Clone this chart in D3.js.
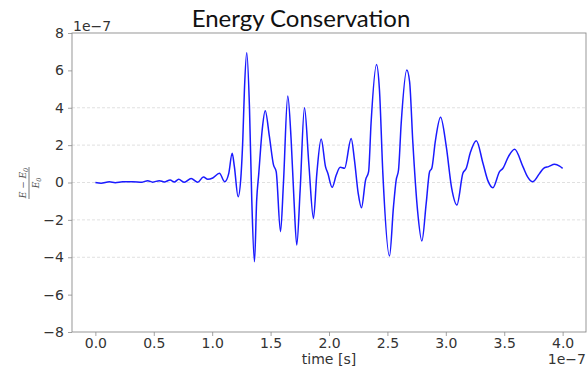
<!DOCTYPE html>
<html>
<head>
<meta charset="utf-8">
<script src="https://cdn.jsdelivr.net/npm/d3@7"></script>
<style>
  html, body { margin: 0; padding: 0; background: #fff; }
  svg { display: block; }
</style>
</head>
<body>
<svg id="chart" width="587" height="370"></svg>
<script>
// Relative energy error (E - E0)/E0 over simulation time, both in units of 1e-7
const timeE7 = [
  0.00, 0.049, 0.12, 0.17, 0.234, 0.32, 0.40, 0.448, 0.49, 0.548, 0.59, 0.64, 0.677, 0.713,
  0.762, 0.82, 0.876, 0.925, 0.962, 1.005, 1.062, 1.107, 1.142, 1.171, 1.19, 1.222, 1.248,
  1.262, 1.276, 1.296, 1.319, 1.339, 1.362, 1.381, 1.399, 1.428, 1.454, 1.49, 1.525, 1.548,
  1.585, 1.61, 1.647, 1.676, 1.699, 1.724, 1.753, 1.79, 1.827, 1.867, 1.896, 1.933, 1.97,
  1.99, 2.027, 2.062, 2.096, 2.133, 2.19, 2.218, 2.25, 2.278, 2.313, 2.339, 2.36, 2.407,
  2.432, 2.461, 2.518, 2.552, 2.575, 2.595, 2.618, 2.666, 2.69, 2.718, 2.758, 2.795, 2.832,
  2.861, 2.88, 2.91, 2.955, 3.004, 3.05, 3.095, 3.146, 3.175, 3.21, 3.261, 3.318, 3.36,
  3.403, 3.46, 3.489, 3.537, 3.589, 3.66, 3.70, 3.745, 3.803, 3.837, 3.88, 3.931, 3.974, 4.00
];
const dE = [
  0.00, -0.04, 0.04, -0.01, 0.04, 0.04, 0.02, 0.10, 0.02, 0.10, 0.03, 0.13, 0.03, 0.17,
  0.01, 0.22, 0.01, 0.30, 0.17, 0.24, 0.49, 0.04, 0.49, 1.56, 0.85, -0.76, 0.49,
  2.27, 4.95, 6.94, 4.06, -0.94, -4.24, -0.94, 0.49, 2.81, 3.84, 2.45, 0.94, 0.58,
  -2.63, -0.04, 4.63, 2.27, -0.76, -3.34, -0.40, 4.00, 1.03, -1.92, 0.49, 2.33, 0.85,
  0.49, -0.26, 0.40, 0.81, 0.76, 2.36, 1.20, -0.58, -1.35, 0.13, 0.58, 3.17, 6.32,
  4.95, 0.49, -3.93, -1.29, 0.13, 0.67, 3.17, 6.02, 5.39, 2.11, -1.50, -3.13, -1.12,
  0.58, 0.76, 2.20, 3.49, 1.92, -0.30, -1.20, 0.49, 0.76, 1.60, 2.24, 1.03, 0.10,
  -0.28, 0.58, 0.76, 1.40, 1.78, 0.85, 0.30, 0.04, 0.49, 0.76, 0.85, 0.97, 0.88, 0.76
];
const xTicks = [0.0, 0.5, 1.0, 1.5, 2.0, 2.5, 3.0, 3.5, 4.0];
const yTicks = [-8, -6, -4, -2, 0, 2, 4, 6, 8];
const gridLevels = [-4, -2, 0, 2, 4];
const offsetLabel = "1e\u22127";

(function draw() {
  const svg = d3.select("#chart");
  const plotLeft = 72, plotRight = 586, plotTop = 33, plotBottom = 332;

  const x = d3.scaleLinear().domain([-0.2, 4.2]).range([plotLeft, plotRight]);
  const y = d3.scaleLinear().domain([-8, 8]).range([plotBottom, plotTop]);

  const spineColor = "#8c8c8c";
  const textColor = "#333";

  // horizontal dashed grid
  svg.append("g")
    .selectAll("line")
    .data(gridLevels)
    .join("line")
    .attr("x1", plotLeft).attr("x2", plotRight)
    .attr("y1", d => y(d)).attr("y2", d => y(d))
    .attr("stroke", "#d8d8d8")
    .attr("stroke-width", 0.8)
    .attr("stroke-dasharray", "3,2");

  // data line
  const line = d3.line()
    .x((d, i) => x(timeE7[i]))
    .y(d => y(d))
    .curve(d3.curveMonotoneX);

  svg.append("path")
    .datum(dE)
    .attr("d", line)
    .attr("fill", "none")
    .attr("stroke", "#1a1aff")
    .attr("stroke-width", 1.5)
    .attr("stroke-linejoin", "round");

  // axes
  const xAxis = d3.axisBottom(x).tickValues(xTicks).tickFormat(d3.format(".1f")).tickSize(4).tickPadding(2);
  const yAxis = d3.axisLeft(y).tickValues(yTicks).tickFormat(d3.format("d")).tickSize(4).tickPadding(4);

  const gx = svg.append("g").attr("transform", `translate(0,${plotBottom})`).call(xAxis);
  const gy = svg.append("g").attr("transform", `translate(${plotLeft},0)`).call(yAxis);

  [gx, gy].forEach(g => {
    g.select(".domain").remove();
    g.selectAll(".tick line").attr("stroke", spineColor).attr("stroke-width", 0.8);
    g.selectAll(".tick text")
      .attr("fill", textColor)
      .style("font-family", "'DejaVu Sans', sans-serif")
      .style("font-size", "14px");
  });

  // box spines
  svg.append("rect")
    .attr("x", plotLeft).attr("y", plotTop)
    .attr("width", plotRight - plotLeft).attr("height", plotBottom - plotTop)
    .attr("fill", "none")
    .attr("stroke", spineColor)
    .attr("stroke-width", 0.9);

  // offset labels
  svg.append("text")
    .attr("x", plotLeft + 1).attr("y", plotTop - 2)
    .attr("fill", textColor)
    .style("font-family", "'DejaVu Sans', sans-serif")
    .style("font-size", "14px")
    .text(offsetLabel);

  svg.append("text")
    .attr("x", 586).attr("y", 364)
    .attr("text-anchor", "end")
    .attr("fill", textColor)
    .style("font-family", "'DejaVu Sans', sans-serif")
    .style("font-size", "14px")
    .text(offsetLabel);

  // x label
  svg.append("text")
    .attr("x", (plotLeft + plotRight) / 2).attr("y", 364)
    .attr("text-anchor", "middle")
    .attr("fill", textColor)
    .style("font-family", "'DejaVu Sans', sans-serif")
    .style("font-size", "14px")
    .text("time [s]");

  // title
  svg.append("text")
    .attr("x", 301).attr("y", 27)
    .attr("text-anchor", "middle")
    .attr("fill", "#111")
    .style("font-family", "Lato, 'Open Sans', sans-serif")
    .style("font-size", "24px")
    .text("Energy Conservation");

  // y label: fraction (E - E0) / E0, rotated
  const yl = svg.append("g")
    .attr("transform", "translate(29,183) rotate(-90)")
    .attr("fill", "#555")
    .style("font-family", "'DejaVu Serif', serif")
    .style("font-style", "italic")
    .style("font-size", "9px");

  const num = yl.append("text").attr("x", 0).attr("y", -3).attr("text-anchor", "middle");
  num.append("tspan").text("E \u2212 E");
  num.append("tspan").attr("font-size", "6.5px").attr("dy", 2).text("0");

  const den = yl.append("text").attr("x", 0).attr("y", 10).attr("text-anchor", "middle");
  den.append("tspan").text("E");
  den.append("tspan").attr("font-size", "6.5px").attr("dy", 2).text("0");

  yl.append("line")
    .attr("x1", -16).attr("x2", 16)
    .attr("y1", 0).attr("y2", 0)
    .attr("stroke", "#555")
    .attr("stroke-width", 0.8);
})();
</script>
</body>
</html>
